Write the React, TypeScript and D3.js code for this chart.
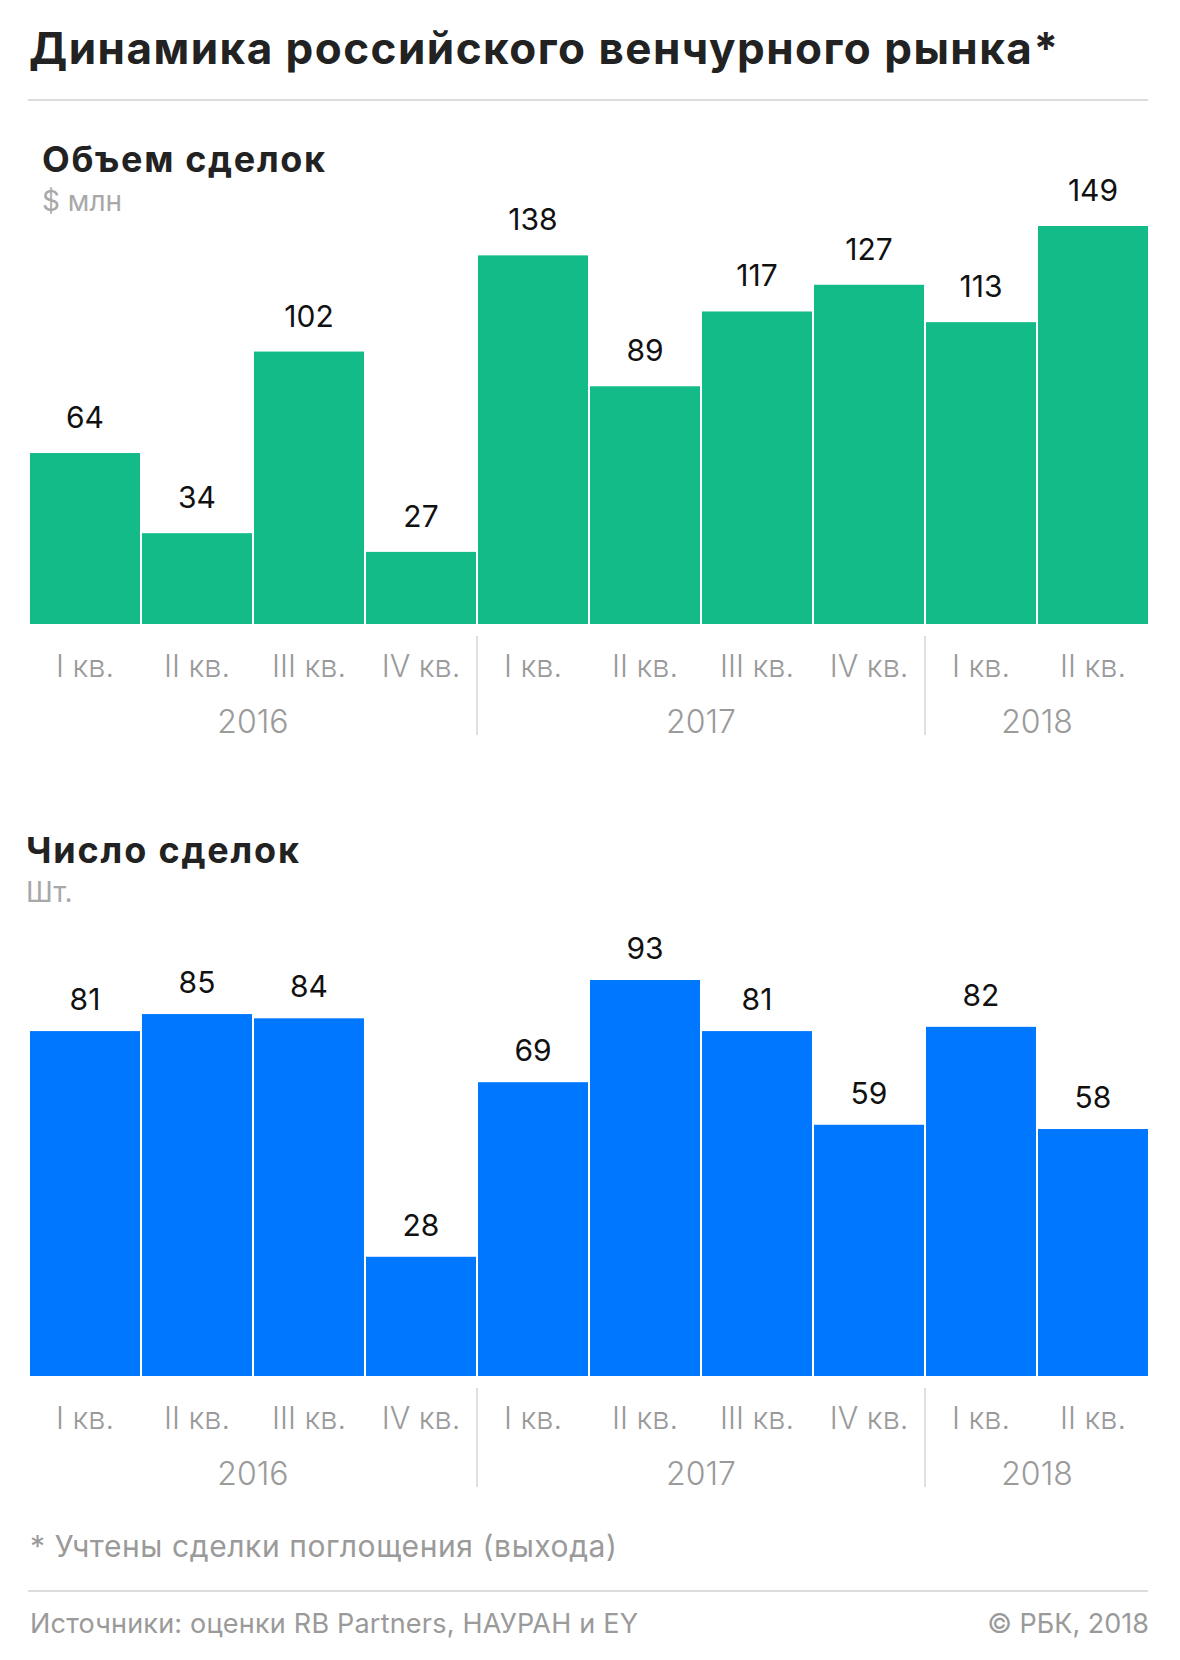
import React from "react";
import * as d3 from "d3";

const quarterLabels = ["I кв.", "II кв.", "III кв.", "IV кв.", "I кв.", "II кв.", "III кв.", "IV кв.", "I кв.", "II кв."];
const quarterYears = ["2016", "2016", "2016", "2016", "2017", "2017", "2017", "2017", "2018", "2018"];
const years = ["2016", "2017", "2018"];
const volumeValues = [64, 34, 102, 27, 138, 89, 117, 127, 113, 149];
const countValues = [81, 85, 84, 28, 69, 93, 81, 59, 82, 58];

const keys = quarterLabels.map((q, i) => `${quarterYears[i]}-${q}`);

const W = 1180;
const H = 1660;
const FONT = "Inter, Roboto, 'Noto Sans', sans-serif";
const GREEN = "#12bb88";
const BLUE = "#0077ff";
const GRAY = "#9a9a9a";

const x = d3.scaleBand<string>().domain(keys).range([30, 1148]).paddingInner(0.018).paddingOuter(0);

function BarPanel({ values, color, base, top, labelGap }: { values: number[]; color: string; base: number; top: number; labelGap: number }) {
  const y = d3.scaleLinear().domain([0, d3.max(values) as number]).range([base, top]);
  const step = x.step();
  const bw = x.bandwidth();
  const dividers: number[] = [];
  years.forEach((yr, yi) => {
    if (yi === 0) return;
    const firstIdx = quarterYears.indexOf(yr);
    const k = keys[firstIdx];
    dividers.push((x(k) as number) - (step - bw) / 2);
  });
  return (
    <g>
      {values.map((v, i) => (
        <rect key={keys[i]} x={x(keys[i])} y={y(v)} width={bw} height={base - y(v)} fill={color} />
      ))}
      {values.map((v, i) => (
        <text key={"l" + keys[i]} x={(x(keys[i]) as number) + bw / 2} y={y(v) - labelGap} textAnchor="middle" fontSize={30} fill="#111" fontFamily={FONT}>
          {v}
        </text>
      ))}
      {quarterLabels.map((q, i) => (
        <text key={"q" + keys[i]} x={(x(keys[i]) as number) + bw / 2} y={base + 53} textAnchor="middle" fontSize={30.5} fontWeight={300} fill={GRAY} fontFamily={FONT}>
          {q}
        </text>
      ))}
      {years.map((yr) => {
        const idx = quarterYears.map((q, i) => (q === yr ? i : -1)).filter((i) => i >= 0);
        const x0 = x(keys[idx[0]]) as number;
        const x1 = (x(keys[idx[idx.length - 1]]) as number) + bw;
        return (
          <text key={"y" + yr} x={(x0 + x1) / 2} y={base + 109} textAnchor="middle" fontSize={32} fontWeight={300} fill={GRAY} fontFamily={FONT}>
            {yr}
          </text>
        );
      })}
      {dividers.map((d, i) => (
        <line key={"d" + i} x1={d} x2={d} y1={base + 12} y2={base + 111} stroke="#d6d6d6" strokeWidth={1.5} />
      ))}
    </g>
  );
}

export default function App() {
  return (
    <svg width={W} height={H} style={{ position: "absolute", left: 0, top: 0, background: "#fff" }}>
      <rect x={0} y={0} width={W} height={H} fill="#fff" />
      <text x={29} y={64} fontSize={44} fontWeight={700} fill="#222" fontFamily={FONT} textLength={1029} lengthAdjust="spacing">
        Динамика российского венчурного рынка*
      </text>
      <line x1={28} x2={1148} y1={100} y2={100} stroke="#dcdcdc" strokeWidth={2} />

      <text x={42} y={172} fontSize={36} fontWeight={700} fill="#222" fontFamily={FONT} textLength={283} lengthAdjust="spacing">
        Объем сделок
      </text>
      <text x={42} y={211} fontSize={28} fill="#a8a8a8" fontFamily={FONT}>
        $ млн
      </text>
      <BarPanel values={volumeValues} color={GREEN} base={624} top={226} labelGap={25} />

      <text x={26} y={863} fontSize={36} fontWeight={700} fill="#222" fontFamily={FONT} textLength={273} lengthAdjust="spacing">
        Число сделок
      </text>
      <text x={26} y={902} fontSize={28} fill="#a8a8a8" fontFamily={FONT}>
        Шт.
      </text>
      <BarPanel values={countValues} color={BLUE} base={1376} top={980} labelGap={21} />

      <text x={30} y={1557} fontSize={30} fill={GRAY} fontFamily={FONT} textLength={587} lengthAdjust="spacing">
        * Учтены сделки поглощения (выхода)
      </text>
      <line x1={28} x2={1148} y1={1591} y2={1591} stroke="#dcdcdc" strokeWidth={2} />
      <text x={30} y={1633} fontSize={27} fill={GRAY} fontFamily={FONT} textLength={608} lengthAdjust="spacing">
        Источники: оценки RB Partners, НАУРАН и EY
      </text>
      <text x={1149} y={1633} fontSize={27} fill={GRAY} textAnchor="end" fontFamily={FONT}>
        © РБК, 2018
      </text>
    </svg>
  );
}
